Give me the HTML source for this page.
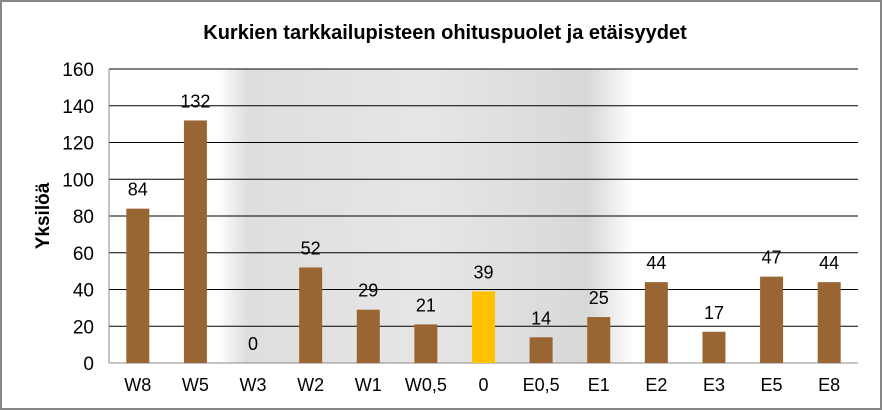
<!DOCTYPE html>
<html><head><meta charset="utf-8"><style>
body{margin:0;background:#fff}
svg{display:block;font-family:"Liberation Sans",Arial,sans-serif}
</style></head><body>
<svg id="chart" width="882" height="410">
<defs>
<linearGradient id="shade" x1="0" x2="1" y1="0" y2="0">
<stop offset="0" stop-color="#fff"/>
<stop offset="0.07" stop-color="#dedede"/>
<stop offset="0.5" stop-color="#e6e6e6"/>
<stop offset="0.89" stop-color="#d8d8d8"/>
<stop offset="1" stop-color="#fff"/>
</linearGradient>
</defs>
<rect x="1" y="1" width="880" height="408" fill="#fff" stroke="#878787" stroke-width="2"/>
<text x="445" y="39" text-anchor="middle" font-size="20" font-weight="bold">Kurkien tarkkailupisteen ohituspuolet ja etäisyydet</text>
<rect x="218" y="69" width="416" height="294" fill="url(#shade)"/>
<g id="grid"></g><g id="bars"></g><g id="labels"></g>
<text transform="translate(49,216) rotate(-90)" text-anchor="middle" font-size="19" font-weight="bold">Yksilöä</text>
</svg>
<script>
const categories=["W8","W5","W3","W2","W1","W0,5","0","E0,5","E1","E2","E3","E5","E8"];
const values=[84,132,0,52,29,21,39,14,25,44,17,47,44];
const yTicks=[0,20,40,60,80,100,120,140,160];
const highlight="0";
const x0=109,x1=858,yTop=69,yBot=363,yMax=160;
const band=(x1-x0)/categories.length;
const y=v=>yBot-(v/yMax)*(yBot-yTop);
const xc=i=>x0+band*(i+0.5);
const NS="http://www.w3.org/2000/svg";
const mk=(t,a,p)=>{const e=document.createElementNS(NS,t);for(const k in a)e.setAttribute(k,a[k]);p.appendChild(e);return e;};
const g=document.getElementById('grid'),b=document.getElementById('bars'),l=document.getElementById('labels');
yTicks.forEach(t=>{
  if(t>0){const ln=mk('line',{x1:x0,x2:x1,y1:y(t),y2:y(t),stroke:'#000','stroke-width':1},g);
  
  }
  const tx=mk('text',{x:94,y:y(t)+7,'text-anchor':'end','font-size':19},g);tx.textContent=t;
  
  
});
const ax=mk('line',{x1:x0,x2:x1,y1:yBot,y2:yBot,stroke:'#888','stroke-width':1},g);


const ay=mk('line',{x1:x0,x2:x0,y1:yTop,y2:yBot,stroke:'#888','stroke-width':1},g);


categories.forEach((c,i)=>{
  const w=23,v=values[i];
  const r=mk('rect',{x:xc(i)-w/2,y:y(v),width:w,height:yBot-y(v),fill:c===highlight?'#ffc000':'#996633'},b);
  
  
  const vl=mk('text',{x:xc(i),y:y(v)-13,'text-anchor':'middle','font-size':18},l);vl.textContent=v;
  
  
  const cl=mk('text',{x:xc(i),y:391,'text-anchor':'middle','font-size':18},l);cl.textContent=c;
  
  
});
</script>
</body></html>
